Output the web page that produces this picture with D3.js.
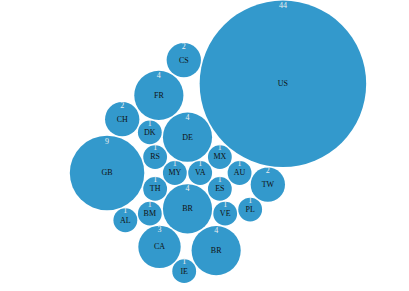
<!DOCTYPE html>
<html>
<head>
<meta charset="utf-8">
<script src="https://cdn.jsdelivr.net/npm/d3@7"></script>
<style>
body { margin: 0; background: #fff; }
text { font-family: "Liberation Serif", "Times New Roman", serif; }
</style>
</head>
<body>
<div id="bubbles"></div>
<script>
// country codes and number of entries, in packing order
var countries = ["MY", "VA", "BR", "DE", "RS", "ES", "TH", "MX", "GB", "AU", "BM", "US",
    "VE", "DK", "TW", "PL", "CH", "AL", "FR", "BR", "CA", "CS", "IE"];
var counts = [1, 1, 4, 4, 1, 1, 1, 1, 9, 1, 1, 44,
    1, 1, 2, 1, 2, 1, 4, 4, 3, 2, 1];

var width = 409,
    height = 291;

// where the packing starts (first two bubbles meet here)
var anchor = {x: 187.5, y: 173};

var svg = d3.select("#bubbles").append("svg")
    .attr("width", width)
    .attr("height", height);

var r = d3.scaleSqrt()
    .domain([0, 44])
    .range([0, 84]);

var data = countries.map(function(c, i) {
    return {code: c, count: counts[i]};
});

var root = d3.hierarchy({children: data})
    .sum(function(d) { return d.count; });

var pack = d3.pack()
    .size([width, height])
    .radius(function(d) { return r(d.value); });

pack(root);

var leaves = root.leaves();
var dx = anchor.x - (leaves[0].x + leaves[1].x) / 2,
    dy = anchor.y - (leaves[0].y + leaves[1].y) / 2;

var node = svg.append("g")
    .attr("transform", "translate(" + dx + "," + dy + ")")
    .selectAll(".node")
    .data(leaves)
    .enter().append("g")
    .attr("class", "node")
    .attr("transform", function(d) { return "translate(" + d.x + "," + d.y + ")"; });

node.append("circle")
    .attr("r", function(d) { return d.r - 0.75; })
    .style("fill", "#3399cc");

// country code in the middle
node.append("text")
    .attr("dy", ".3em")
    .style("text-anchor", "middle")
    .style("font-size", "8px")
    .style("fill", "#111")
    .text(function(d) { return d.data.code; });

// count just under the top edge
node.append("text")
    .attr("y", function(d) { return -d.r + Math.min(8.5, 4 + d.r * 0.15); })
    .style("text-anchor", "middle")
    .style("font-size", "8px")
    .style("fill", "#eee")
    .text(function(d) { return d.data.count; });
</script>
</body>
</html>
